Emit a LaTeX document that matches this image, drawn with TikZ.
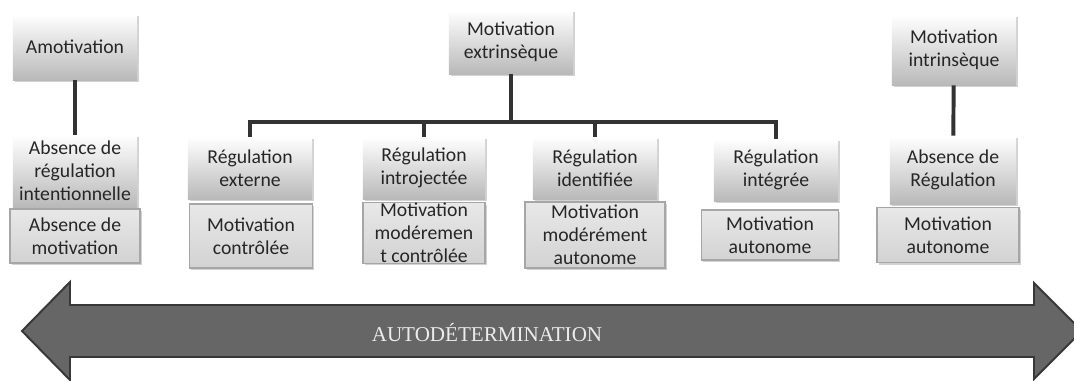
\documentclass[tikz,border=0pt]{standalone}
\usepackage{fontspec}
\setmainfont{Carlito}
\newfontfamily\arrowfont{Liberation Serif}
\usetikzlibrary{shadows}

\begin{document}
\begin{tikzpicture}[x=0.025cm,y=-0.025cm,
  head/.style={align=center,inner sep=1pt,minimum width=3.1cm,minimum height=1.6cm,top color=white,bottom color=gray!55,drop shadow={opacity=0.35,shadow xshift=1.2pt,shadow yshift=-1.5pt},text=black!85,font=\fontsize{14}{16.5}\selectfont},
  sub/.style={align=center,inner sep=1pt,minimum width=3.1cm,minimum height=1.4cm,top color=gray!18,bottom color=gray!35,draw=gray!70,line width=0.8pt,drop shadow={opacity=0.35,shadow xshift=1.2pt,shadow yshift=-1.5pt},text=black!85,font=\fontsize{14}{16.5}\selectfont},
  link/.style={line width=2.8pt,black!80},
  bigarrow/.style={fill=black!60,draw=black!78,line width=1.4pt}]
\clip (0,0) rectangle (1074,381);
\fill[white] (0,0) rectangle (1074,381);
\node[head,minimum height=1.65cm] (amo) at (75,47) {Amotivation};
\node[head] (ext) at (511,42) {Motivation\\extrinsèque};
\node[head,minimum height=1.75cm] (intr) at (954,50) {Motivation\\intrinsèque};
\node[head,minimum height=1.8cm] (ramo) at (75,171) {Absence de\\régulation\\intentionnelle};
\node[head,minimum height=1.55cm] (rext) at (250,168) {Régulation\\externe};
\node[head,minimum height=1.55cm,minimum width=3.05cm] (rint) at (424,168) {Régulation\\introjectée};
\node[head,minimum height=1.55cm] (rid) at (595,168) {Régulation\\identifiée};
\node[head,minimum height=1.55cm] (rig) at (776,170) {Régulation\\intégrée};
\node[head,minimum height=1.7cm,minimum width=3.15cm] (rintr) at (953,170) {Absence de\\Régulation};
\node[sub,minimum width=3.25cm,minimum height=1.35cm] (mamo) at (75,236) {Absence de\\motivation};
\node[sub,minimum width=3.08cm,minimum height=1.6cm] (mext) at (251,236) {Motivation\\contrôlée};
\node[sub,minimum width=3.05cm,minimum height=1.5cm,inner sep=0pt] (mint) at (424,233) {Motivation\\modéremen\\t contrôlée};
\node[sub,minimum width=3.5cm,minimum height=1.65cm,inner sep=0pt] (mid) at (595,235) {Motivation\\modérément\\autonome};
\node[sub,minimum width=3.42cm,minimum height=1.25cm] (mig) at (770,235) {Motivation\\autonome};
\node[sub,minimum width=3.55cm,minimum height=1.38cm] (mintr) at (948,235) {Motivation\\autonome};
\coordinate (bar) at (511,122);
\draw[link] (amo) -- (ramo);
\draw[link] (intr) -- (rintr);
\draw[link] (ext) -- (bar);
\draw[link] (bar) -| (rext.north);
\draw[link] (bar) -| (rint.north);
\draw[link] (bar) -| (rid.north);
\draw[link] (bar) -| (rig.north);
\draw[bigarrow] (22,331) -- (70,282) -- (70,305) -- (1034,305) -- (1034,283) -- (1082,331) -- (1034,379) -- (1034,357) -- (70,357) -- (70,380) -- cycle;
\node[text=gray!15,font=\arrowfont\fontsize{15}{18}\selectfont] (auto) at (487,333) {AUTODÉTERMINATION};
\end{tikzpicture}
\end{document}
